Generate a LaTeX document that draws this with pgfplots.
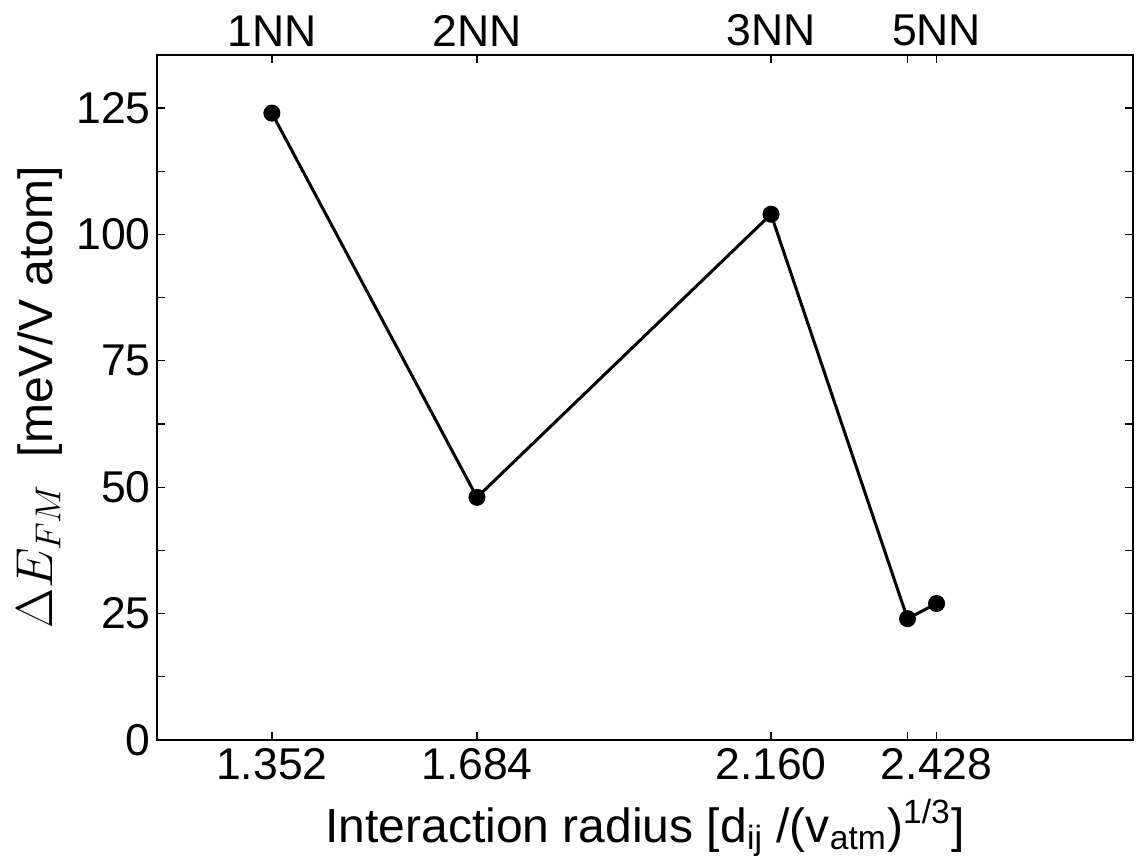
\documentclass[border=0pt]{standalone}
\usepackage{pgfplots}
\pgfplotsset{compat=1.18}
\usepackage{fontspec}
\setmainfont{Liberation Sans}
\begin{document}
\begin{tikzpicture}
\useasboundingbox (-62.8pt,-51.2pt) rectangle (391.6pt,296pt);
\pgfplotsset{
  common/.style={
    scale only axis, width=390.4pt, height=274pt,
    xmin=1.166, xmax=2.746, ymin=0, ymax=135.5,
    xtick={1.352,1.684,2.160,2.381,2.428},
    tick align=inside,
    major tick length=3.2pt, minor tick length=3.2pt,
    every tick/.style={black, line width=0.5pt},
    tick label style={font=\fontsize{17.8}{20}\selectfont},
    /pgf/number format/assume math mode=true,
  }
}
\begin{axis}[common,
    axis line style={line width=1pt},
    xticklabels={1.352,1.684,2.160,,2.428},
    ytick={0,25,...,125},
    minor ytick={12.5,37.5,...,137.5},
    ytick pos=both, xtick pos=both, xticklabel pos=bottom,
    yticklabel pos=left,
    yticklabel style={xshift=1pt},
    xlabel={Interaction radius [d\textsubscript{ij} /(v\textsubscript{atm})\textsuperscript{1/3}]},
    ylabel={$\Delta E_{FM}$\ \ [meV/V atom]},
    label style={font=\fontsize{19.2}{22}\selectfont},
    xlabel style={at={(axis description cs:0.5,-0.149)}, anchor=base},
    ylabel style={at={(axis description cs:-0.12,0.5)}, anchor=center},
  ]
\addplot[black, line width=1.2pt, mark=*, mark size=2.8pt] coordinates {
  (1.352,124) (1.684,48) (2.160,104) (2.381,24) (2.428,27)
};
\end{axis}
\begin{axis}[common,
    axis x line*=top, axis y line=none,
    xticklabels={1NN,2NN,3NN,,5NN},
    xtick pos=upper, xticklabel pos=upper,
  ]
\end{axis}
\end{tikzpicture}
\end{document}
